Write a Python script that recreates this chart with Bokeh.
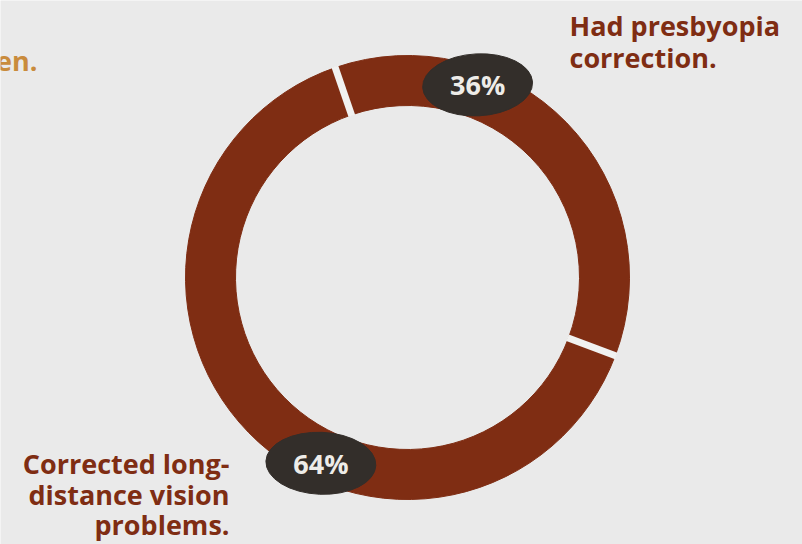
import math
from bokeh.plotting import figure
from bokeh.models import Range1d, ColumnDataSource
from bokeh.core.properties import value
from bokeh.embed import file_html
from bokeh.resources import INLINE

# ---- data ----
categories = ["Had presbyopia correction.", "Corrected long-distance vision problems."]
shares = [36, 64]
pct_labels = ["36%", "64%"]

# ---- style / layout ----
W, H = 802, 544
BG = "#EAEAEA"
RING = "#7F2D13"
BLOB = "#332E2A"
LABEL_TXT = "#EEECE8"
GOLD = "#C98B3C"
FONT = "Open Sans"
CX, CY = 407, H - 277
R_OUT, R_IN = 222, 172
START_DEG = -19          # clockwise from 12 o'clock
LABEL_THETA = [20, 205]  # clockwise from 12 o'clock
LABEL_R = 205

p = figure(width=W, height=H, output_backend="svg", toolbar_location=None,
           x_range=Range1d(0, W), y_range=Range1d(0, H), min_border=0)
p.axis.visible = False
p.grid.visible = False
p.outline_line_color = None
p.background_fill_color = BG
p.border_fill_color = BG

def to_bokeh(theta_deg):
    return math.radians(90 - theta_deg)

total = sum(shares)
starts, ends = [], []
acc = START_DEG
for s in shares:
    span = s / total * 360
    starts.append(to_bokeh(acc + span))
    ends.append(to_bokeh(acc))
    acc += span

src = ColumnDataSource(dict(x=[CX] * len(shares), y=[CY] * len(shares),
                            start=starts, end=ends, cat=categories))
p.annular_wedge(x="x", y="y", inner_radius=R_IN, outer_radius=R_OUT,
                start_angle="start", end_angle="end", color=RING,
                direction="anticlock", source=src)

# separators
acc = START_DEG
x0s, y0s, x1s, y1s = [], [], [], []
for s in shares:
    a = to_bokeh(acc)
    x0s.append(CX + (R_IN - 1) * math.cos(a)); y0s.append(CY + (R_IN - 1) * math.sin(a))
    x1s.append(CX + (R_OUT + 1) * math.cos(a)); y1s.append(CY + (R_OUT + 1) * math.sin(a))
    acc += s / total * 360
p.segment(x0s, y0s, x1s, y1s, line_color="#F1F1F0", line_width=7)

# blobs + percent labels
lx = [CX + LABEL_R * math.cos(to_bokeh(t)) for t in LABEL_THETA]
ly = [CY + LABEL_R * math.sin(to_bokeh(t)) for t in LABEL_THETA]
p.ellipse(x=lx, y=ly, width=110, height=62, angle=[0.05, -0.04], color=BLOB)
p.text(x=lx, y=ly, text=pct_labels, text_font=value(FONT), text_font_style="bold",
       text_font_size="27px", text_color=LABEL_TXT, text_align="center",
       text_baseline="middle")

# category labels
p.text(x=[569, 569], y=[H - 25, H - 57], text=["Had presbyopia", "correction."],
       text_font=value(FONT), text_font_style="bold", text_font_size="27px",
       text_color=RING, text_align="left", text_baseline="middle")
p.text(x=[229, 229, 229], y=[H - 463, H - 494, H - 524],
       text=["Corrected long-", "distance vision", "problems."],
       text_font=value(FONT), text_font_style="bold", text_font_size="27px",
       text_color=RING, text_align="right", text_baseline="middle")

# cut-off text at left (partially visible in the reference)
p.text(x=[37], y=[H - 60], text=["en."], text_font=value(FONT),
       text_font_style="bold", text_font_size="27px", text_color=GOLD,
       text_align="right", text_baseline="middle")

open("out.html", "w").write(file_html(p, INLINE))
